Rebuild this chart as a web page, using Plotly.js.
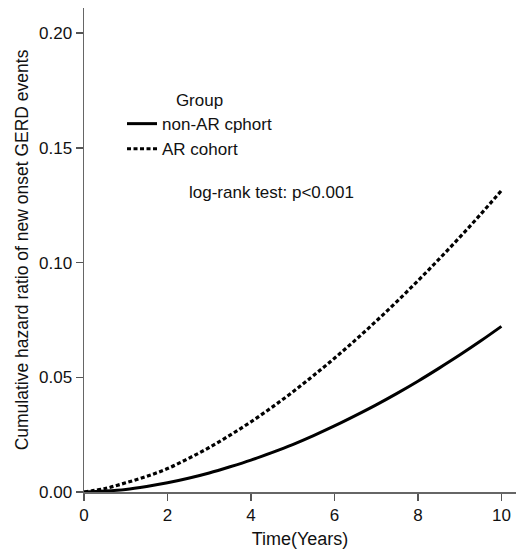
<!DOCTYPE html>
<html>
<head>
<meta charset="utf-8">
<script src="https://cdn.plot.ly/plotly-3.0.1.min.js"></script>
<style>html,body{margin:0;padding:0;background:#fff;}#chart{width:517px;height:550px;}</style>
</head>
<body>
<div id="chart"></div>
<script>
const years = [0, 0.5, 1, 1.5, 2, 2.5, 3, 3.5, 4, 4.5, 5, 5.5, 6, 6.5, 7, 7.5, 8, 8.5, 9, 9.5, 10];
const nonArCohort = [0, 0.0004, 0.0011, 0.0024, 0.0040, 0.0060, 0.0083, 0.0110, 0.0139, 0.0172, 0.0207, 0.0246, 0.0288, 0.0333, 0.0380, 0.0430, 0.0483, 0.0539, 0.0597, 0.0658, 0.0722];
const arCohort = [0, 0.0015, 0.0040, 0.0068, 0.0102, 0.0146, 0.0194, 0.0248, 0.0306, 0.0369, 0.0436, 0.0508, 0.0583, 0.0662, 0.0745, 0.0831, 0.0921, 0.1014, 0.1110, 0.1210, 0.1314];
const seriesNames = ["non-AR cphort", "AR cohort"];
const yTicks = [0, 0.05, 0.10, 0.15, 0.20];
const yTickText = ["0.00", "0.05", "0.10", "0.15", "0.20"];
const xTicks = [0, 2, 4, 6, 8, 10];

const FONT = "Liberation Sans, Arial, sans-serif";

const traces = [
  {x: years, y: nonArCohort, name: seriesNames[0], mode: "lines", line: {color: "#000", width: 3, shape: "spline"}},
  {x: years, y: arCohort, name: seriesNames[1], mode: "lines", line: {color: "#000", width: 3.2, dash: "4px,2.5px", shape: "spline"}}
];

const layout = {
  width: 517, height: 550,
  margin: {l: 84, r: 1, t: 8, b: 58},
  paper_bgcolor: "#fff", plot_bgcolor: "#fff",
  font: {family: FONT, color: "#111", size: 16},
  showlegend: true,
  legend: {
    x: 0.088, y: 0.843, xanchor: "left", yanchor: "top",
    bgcolor: "rgba(0,0,0,0)",
    font: {family: FONT, size: 17, color: "#111"},
    title: {text: "Group", side: "top center", font: {family: FONT, size: 17, color: "#111"}},
    tracegroupgap: 0, itemwidth: 30
  },
  xaxis: {
    range: [0, 10.35], tickvals: xTicks, ticks: "outside", ticklen: 7, tickwidth: 1.5, tickcolor: "#555",
    showline: true, linecolor: "#666", linewidth: 1.5, showgrid: false, zeroline: false,
    tickfont: {family: FONT, size: 17, color: "#111"},
    title: {text: "Time(Years)", font: {family: FONT, size: 18, color: "#111"}, standoff: 8}
  },
  yaxis: {
    range: [0, 0.211], tickvals: yTicks, ticktext: yTickText, ticks: "outside", ticklen: 7, tickwidth: 1.5, tickcolor: "#555",
    showline: true, linecolor: "#666", linewidth: 1.5, showgrid: false, zeroline: false,
    tickfont: {family: FONT, size: 17, color: "#111"},
    title: {text: "Cumulative hazard ratio of new onset GERD events", font: {family: FONT, size: 17.5, color: "#111"}, standoff: 6}
  },
  annotations: [
    {text: "log-rank test: p<0.001", xref: "paper", yref: "paper", x: 0.238, y: 0.618, xanchor: "left", yanchor: "middle",
     showarrow: false, font: {family: FONT, size: 17, color: "#111"}}
  ]
};

Plotly.newPlot("chart", traces, layout, {displayModeBar: false, staticPlot: true});
</script>
</body>
</html>
